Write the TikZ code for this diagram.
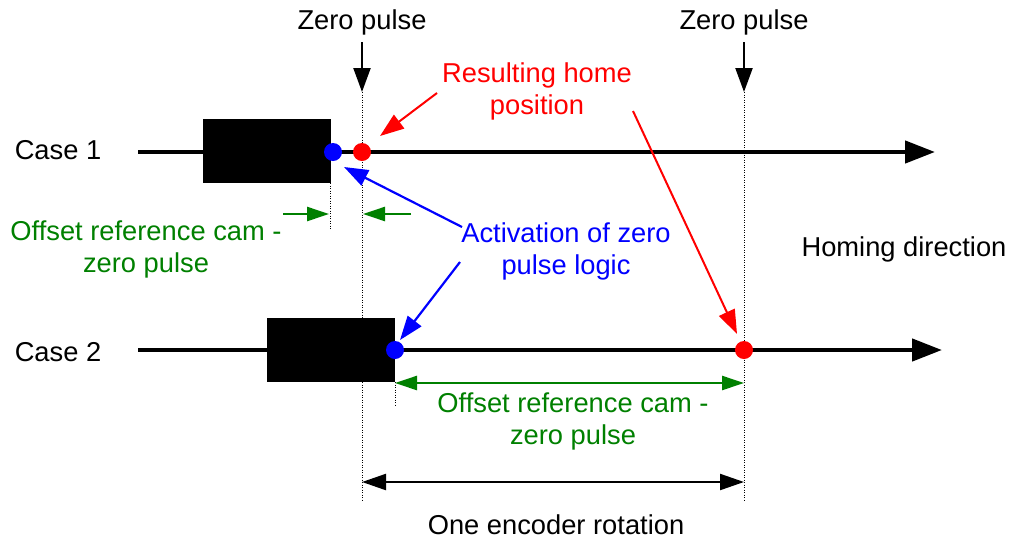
\documentclass[tikz,border=0pt]{standalone}
\usepackage{fontspec}
\setmainfont{Liberation Sans}
\usetikzlibrary{arrows.meta}
\definecolor{cgreen}{RGB}{0,128,0}
\definecolor{cblue}{RGB}{0,0,255}
\definecolor{cred}{RGB}{255,0,0}
\begin{document}
\begin{tikzpicture}[x=1pt,y=-1pt,
  lbl/.style={font=\fontsize{27.3}{32}\selectfont, align=center, inner sep=0pt},
  axisline/.style={line width=4.5pt, -{Triangle[length=30pt,width=22pt]}},
  cambox/.style={fill=black, draw=none, minimum width=128pt, minimum height=64pt, inner sep=0pt},
  dotnode/.style={circle, minimum size=18pt, inner sep=0pt, draw=none},
  guide/.style={line width=0.8pt, dash pattern=on 1pt off 1.5pt},
  zparrow/.style={line width=2.2pt, -{Triangle[length=24pt,width=17pt]}},
  redarrow/.style={cred, line width=2pt, -{Triangle[length=24pt,width=17pt]}},
  bluearrow/.style={cblue, line width=2.2pt, -{Triangle[length=24pt,width=17pt]}},
  greenarrow/.style={cgreen, line width=2.5pt, -{Triangle[length=22pt,width=14pt]}},
  greendouble/.style={cgreen, line width=2.5pt, {Triangle[length=22pt,width=14pt]}-{Triangle[length=22pt,width=14pt]}},
  blackdouble/.style={line width=2.2pt, {Triangle[length=24pt,width=16pt]}-{Triangle[length=24pt,width=16pt]}}
]
\useasboundingbox (0,0) rectangle (1011,539);

% labels
\node[lbl] (zp1) at (362,22) {Zero pulse};
\node[lbl] (zp2) at (744,22) {Zero pulse};
\node[lbl, cred] (home) at (537,91) {Resulting home\\position};
\node[lbl, cblue] (act) at (566,251) {Activation of zero\\pulse logic};
\node[lbl, cgreen] (off1) at (146,249) {Offset reference cam -\\zero pulse};
\node[lbl, cgreen] (off2) at (573,421) {Offset reference cam -\\zero pulse};
\node[lbl] (homing) at (904,249) {Homing direction};
\node[lbl] (enc) at (556,525) {One encoder rotation};
\node[lbl] (case1) at (58,150) {Case 1};
\node[lbl] (case2) at (58,352) {Case 2};

% coordinates
\coordinate (zp1top) at (362,42);
\coordinate (zp1tip) at (362,92);
\coordinate (zp2top) at (744,42);
\coordinate (zp2tip) at (744,92);
\coordinate (zp1bot) at (362,500);
\coordinate (zp2bot) at (744,500);
\coordinate (c1s) at (138,152);
\coordinate (c1e) at (935,152);
\coordinate (c2s) at (138,350);
\coordinate (c2e) at (942,350);

% guides
\draw[guide] (zp1tip) -- (zp1bot);
\draw[guide] (zp2tip) -- (zp2bot);
\coordinate (g1a) at (330,183);
\coordinate (g1b) at (330,230);
\draw[guide] (g1a) -- (g1b);
\coordinate (g2a) at (395,382);
\coordinate (g2b) at (395,406);
\draw[guide] (g2a) -- (g2b);

% zero pulse arrows
\draw[zparrow] (zp1top) -- (zp1tip);
\draw[zparrow] (zp2top) -- (zp2tip);

% case lines
\draw[axisline] (c1s) -- (c1e);
\draw[axisline] (c2s) -- (c2e);

% cams
\node[cambox] (cam1) at (266.5,151) {};
\node[cambox] (cam2) at (331,350) {};

% dots
\node[dotnode, fill=cblue] (b1) at (333,152) {};
\node[dotnode, fill=cred] (r1) at (362,152) {};
\node[dotnode, fill=cblue] (b2) at (395,350) {};
\node[dotnode, fill=cred] (r2) at (744,350) {};

% red arrows
\coordinate (ra1) at (437,93);
\coordinate (ra1e) at (380,136);
\draw[redarrow] (ra1) -- (ra1e);
\coordinate (ra2) at (633,111);
\coordinate (ra2e) at (737,334);
\draw[redarrow] (ra2) -- (ra2e);

% blue arrows
\coordinate (ba1) at (462,227);
\coordinate (ba1e) at (344,167);
\draw[bluearrow] (ba1) -- (ba1e);
\coordinate (ba2) at (460,262);
\coordinate (ba2e) at (400,340);
\draw[bluearrow] (ba2) -- (ba2e);

% green arrows case 1
\coordinate (ga1) at (283,214);
\coordinate (ga1e) at (329,214);
\draw[greenarrow] (ga1) -- (ga1e);
\coordinate (ga2) at (411,214);
\coordinate (ga2e) at (363,214);
\draw[greenarrow] (ga2) -- (ga2e);

% green double arrow case 2
\coordinate (gd1) at (395,383);
\coordinate (gd2) at (744,383);
\draw[greendouble] (gd1) -- (gd2);

% encoder rotation
\coordinate (ed1) at (362,482);
\coordinate (ed2) at (744,482);
\draw[blackdouble] (ed1) -- (ed2);
\end{tikzpicture}
\end{document}
